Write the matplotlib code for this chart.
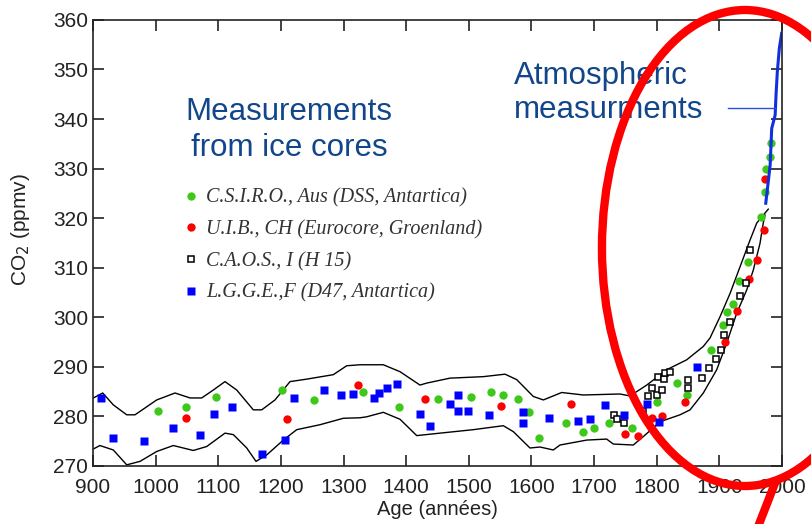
import matplotlib.pyplot as plt
from matplotlib.patches import Ellipse
from matplotlib.lines import Line2D

# ice core series (year, CO2 ppmv)
csiro_year = [1004, 1048, 1097, 1202, 1252, 1331, 1389, 1450, 1504, 1535, 1554, 1579,
              1596, 1612, 1655, 1683, 1700, 1724, 1760, 1801, 1832, 1848, 1886, 1905,
              1912, 1922, 1932, 1946, 1966, 1973, 1975, 1980, 1982]
csiro_co2 = [281.1, 281.8, 283.9, 285.3, 283.3, 284.9, 281.8, 283.5, 283.9, 285.0, 284.2, 283.5,
             280.8, 275.6, 278.6, 276.9, 277.6, 278.6, 277.6, 282.8, 286.7, 284.3, 293.3, 298.5,
             301.0, 302.7, 307.4, 311.2, 320.2, 325.3, 329.9, 332.4, 335.2]

uib_year = [1048, 1209, 1323, 1430, 1551, 1663, 1749, 1770, 1793, 1809, 1845, 1909,
            1928, 1947, 1960, 1971, 1972]
uib_co2 = [279.7, 279.4, 286.3, 283.5, 282.1, 282.4, 276.5, 276.1, 279.7, 280.1, 282.9, 294.9,
           301.3, 307.7, 311.6, 317.5, 327.8]

caos_year = [1731, 1736, 1748, 1778, 1786, 1792, 1801, 1802, 1809, 1812, 1813, 1821,
             1850, 1850, 1872, 1883, 1895, 1903, 1908, 1917, 1933, 1942, 1949]
caos_co2 = [280.3, 279.4, 278.6, 281.0, 284.0, 285.7, 284.3, 288.0, 285.3, 287.5, 288.7, 289.0,
            287.4, 285.7, 287.7, 289.7, 291.5, 293.4, 296.4, 299.1, 304.2, 306.9, 313.6]

lgge_year = [913, 932, 982, 1027, 1070, 1093, 1122, 1169, 1206, 1221, 1269, 1296,
             1315, 1349, 1357, 1370, 1386, 1422, 1438, 1470, 1482, 1482, 1499, 1532,
             1587, 1587, 1628, 1675, 1693, 1718, 1748, 1784, 1804, 1865]
lgge_co2 = [283.7, 275.6, 275.1, 277.7, 276.3, 280.4, 281.8, 272.4, 275.2, 283.7, 285.3, 284.2,
            284.5, 283.7, 284.7, 285.7, 286.5, 280.4, 278.1, 282.5, 284.3, 281.1, 281.1, 280.3,
            280.8, 278.6, 279.7, 279.1, 279.5, 282.2, 280.3, 282.4, 278.9, 289.9]

# atmospheric record
atmo_year = [1974, 1978, 1981, 1983.5, 1989, 1990.4, 1992.5, 1995.7, 1999.4]
atmo_co2 = [323.0, 327.4, 330.7, 338.1, 340.8, 344.9, 349.6, 354.3, 357.3]

# envelope around the ice core data
upper_year = [900.5, 915.5, 932.4, 953.8, 967, 1001.7, 1030.9, 1054.9, 1073.5, 1092, 1110.7,
              1129.4, 1155.9, 1169.3, 1190.5, 1214.5, 1241.2, 1283.6, 1305, 1326.2, 1363.4,
              1390.1, 1422, 1432.7, 1469.9, 1523.1, 1557.7, 1576.4, 1602.9, 1618.9, 1648.2,
              1682.7, 1741.3, 1757.3, 1784, 1815.9, 1847.8, 1874.3, 1885, 1901, 1917, 1933,
              1949, 1959.6, 1970, 1978]
upper_co2 = [283.7, 284.7, 282.3, 280.3, 280.3, 283.3, 284.7, 283.7, 283.7, 285.3, 287.0,
             285.3, 281.3, 281.3, 283.3, 287.0, 287.5, 288.4, 290.2, 290.4, 290.4,
             289.0, 286.3, 286.7, 287.7, 288.0, 288.5, 287.4, 284.0, 283.3, 284.8,
             284.3, 284.5, 284.1, 286.3, 289.4, 291.4, 294.1, 295.8, 300.1, 304.8, 310.2,
             315.6, 319.0, 320.6, 321.8]
lower_year = [900.5, 911, 932.4, 953.8, 975, 1001.7, 1028.2, 1060.1, 1081.5, 1110.7, 1124,
              1145.4, 1160.2, 1177.3, 1203.8, 1225.2, 1262.4, 1299.6, 1326.2, 1337, 1363.4,
              1390.1, 1416.8, 1454, 1507.1, 1555, 1571, 1597.6, 1613.6, 1634.8, 1645.5,
              1688.2, 1720, 1730.6, 1762.5, 1778.5, 1805.2, 1837.1, 1853.1, 1874.3, 1895.7,
              1911.7, 1927.6, 1943.6, 1954.1, 1964.8, 1970, 1972.8]
lower_co2 = [273.4, 274.1, 273.2, 270.2, 270.9, 272.9, 274.1, 273.1, 273.9, 276.6, 276.3,
             273.6, 270.9, 272.2, 275.2, 277.3, 278.3, 279.6, 279.7, 279.9, 280.8,
             279.4, 276.1, 276.6, 277.3, 278.1, 276.9, 273.6, 273.8, 273.2, 274.2,
             275.2, 275.4, 274.4, 274.2, 275.9, 278.9, 280.3, 281.3, 284.7, 289.4,
             294.8, 300.8, 305.5, 309.5, 314.9, 319.0, 320.6]

labels = ['C.S.I.R.O., Aus (DSS, Antartica)', 'U.I.B., CH (Eurocore, Groenland)',
          'C.A.O.S., I (H 15)', 'L.G.G.E.,F (D47, Antartica)']

navy = '#12468a'
green = '#3ec81a'

plt.rcParams['font.family'] = ['Liberation Sans', 'DejaVu Sans']

fig = plt.figure(figsize=(8.11, 5.24), dpi=100)
ax = fig.add_axes([0.1147, 0.111, 0.8496, 0.851])

ax.plot(upper_year, upper_co2, color='black', lw=1.0)
ax.plot(lower_year, lower_co2, color='black', lw=1.0)

ax.plot(csiro_year, csiro_co2, 'o', color=green, mec='none', ms=6, label=labels[0])
ax.plot(uib_year, uib_co2, 'o', color='#ff0000', mec='none', ms=6, label=labels[1])
ax.plot(caos_year, caos_co2, 's', mfc='white', mec='black', mew=1.1, ms=5, label=labels[2])
ax.plot(lgge_year, lgge_co2, 's', color='#0000ff', mec='none', ms=6, label=labels[3])

ax.plot(atmo_year, atmo_co2, color='#1030e0', lw=2.2)
ax.plot([1914, 1989], [342.2, 342.2], color='#2850e0', lw=1.0)

ax.set_xlim(900, 2000)
ax.set_ylim(270, 360)
ax.set_xticks(range(900, 2001, 100))
ax.set_yticks(range(270, 361, 10))
ax.tick_params(direction='in', top=True, right=True, length=8, width=1.2,
               labelsize=15, colors='#222222')
ax.tick_params(axis='x', pad=9)
for s in ax.spines.values():
    s.set_linewidth(1.2)
    s.set_color('#222222')

ax.set_xlabel('Age (années)', fontsize=14.5, color='#222222')
ax.xaxis.set_label_coords(0.5, -0.077)
ax.set_ylabel('CO$_2$ (ppmv)', fontsize=15, color='#222222')
ax.yaxis.set_label_coords(-0.088, 0.53)

ax.text(1213, 337.8, 'Measurements\nfrom ice cores', color=navy, fontsize=22.5,
        ha='center', va='center', linespacing=1.28)
ax.text(1572, 345.3, 'Atmospheric\nmeasurments', color=navy, fontsize=22.5,
        ha='left', va='center', linespacing=1.18)

leg = ax.legend(loc='upper left', bbox_to_anchor=(0.134, 0.622), frameon=False,
                handlelength=0.6, handletextpad=0.45, labelspacing=0.62,
                borderpad=0, borderaxespad=0,
                prop={'family': 'Liberation Serif', 'style': 'italic', 'size': 14.5})
for t in leg.get_texts():
    t.set_color('#333333')

# red highlight drawn over the whole picture
fig.add_artist(Ellipse((0.9186, 0.5267), 0.3527, 0.9084, transform=fig.transFigure,
                       fill=False, edgecolor='#ff0000', lw=6, clip_on=False))
fig.add_artist(Line2D([0.9556, 0.936], [0.078, 0.0], transform=fig.transFigure,
                      color='#ff0000', lw=6, clip_on=False))

fig.savefig('out.png', dpi=100)
